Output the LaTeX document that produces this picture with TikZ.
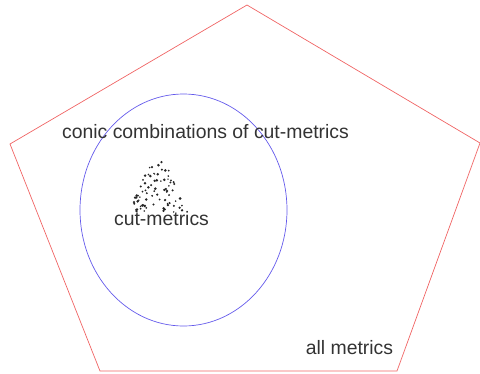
\documentclass[tikz,border=0pt]{standalone}
\usepackage{fontspec}
\setmainfont{Liberation Sans}
\begin{document}
\begin{tikzpicture}[x=1pt,y=-1pt,
  lbl/.style={text=black!80, font=\fontsize{19.4}{22}\selectfont, inner sep=0pt},
  dotmark/.style={fill=black!85, draw=none}]
\useasboundingbox (0,0) rectangle (480,373);
\coordinate (p1) at (247,5);
\coordinate (p2) at (480,143);
\coordinate (p3) at (397,371);
\coordinate (p4) at (100,371);
\coordinate (p5) at (10,144);
\draw[color={rgb,255:red,240;green,100;blue,100}, line width=0.7pt] (p1) -- (p2) -- (p3) -- (p4) -- (p5) -- cycle;
\draw[color={rgb,255:red,100;green,90;blue,235}, line width=0.7pt] (183.5,210) ellipse [x radius=103.5, y radius=116];
\pgfmathsetseed{7}
\foreach \i in {1,...,80}{
  \pgfmathsetmacro{\u}{rnd}
  \pgfmathsetmacro{\v}{rnd}
  \pgfmathsetmacro{\yy}{155+57*sqrt(\v)}
  \pgfmathsetmacro{\half}{(\yy-155)*0.45+4}
  \pgfmathsetmacro{\xx}{160-(\yy-155)*0.08+(2*\u-1)*\half}
  \pgfmathsetmacro{\rr}{0.8+0.7*rnd}
  \fill[dotmark] (\xx,\yy) circle[radius=\rr];
}
\node[lbl] (conic) at (205.5,132) {conic combinations of cut-metrics};
\node[lbl] (cut) at (161.5,219) {cut-metrics};
\node[lbl] (all) at (349.5,348) {all metrics};
\end{tikzpicture}
\end{document}
